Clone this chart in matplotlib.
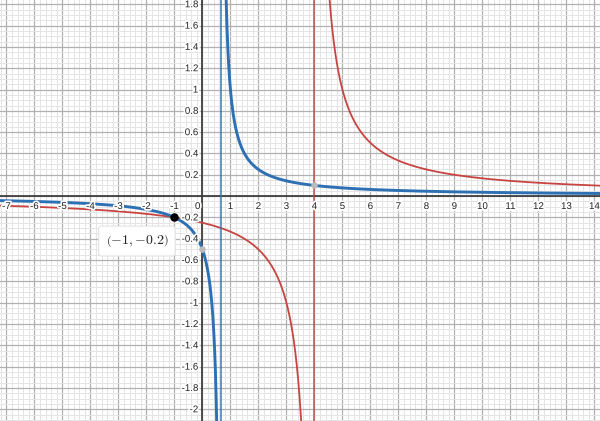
import numpy as np
import matplotlib
matplotlib.use("Agg")
import matplotlib.pyplot as plt
import matplotlib.patheffects as pe

plt.rcParams['mathtext.fontset'] = 'cm'

# Functions y = 1 / (a*x + b)
blue_a, blue_b = 3.0, -2.0   # y = 1/(3x-2)
red_a, red_b = 1.0, -4.0     # y = 1/(x-4)

point_xy = (-1.0, -0.2)
point_label = r"$\left(-1,{-}0.2\right)$"
gray_points_x = [0.0, 4.0]
gray_points_y = [-0.5, 0.1]

x_ticks = list(range(-7, 15))
y_ticks = [-2.0, -1.8, -1.6, -1.4, -1.2, -1.0, -0.8, -0.6, -0.4, -0.2,
           0.2, 0.4, 0.6, 0.8, 1.0, 1.2, 1.4, 1.6, 1.8]

XMIN, XMAX = -7.23, 14.2
YMIN, YMAX = -2.11, 1.84

BLUE = "#2d70b3"
RED = "#c74440"

fig = plt.figure(figsize=(6.0, 4.21), dpi=100)
ax = fig.add_axes([0, 0, 1, 1])
ax.set_xlim(XMIN, XMAX)
ax.set_ylim(YMIN, YMAX)

# grid
ax.set_xticks(np.arange(-7, 15, 1.0))
ax.set_xticks(np.arange(-7.2, 14.21, 0.2), minor=True)
ax.set_yticks(np.arange(-2.0, 1.81, 0.2))
ax.set_yticks(np.arange(-2.1, 1.85, 0.05), minor=True)
ax.grid(which='major', color='#b0b0b0', linewidth=0.9)
ax.grid(which='minor', color='#e4e4e4', linewidth=0.7)
ax.tick_params(which='both', length=0, labelbottom=False, labelleft=False)
for s in ax.spines.values():
    s.set_visible(False)
ax.set_axisbelow(True)

# axes
ax.axhline(0, color='#333333', linewidth=1.2, zorder=2)
ax.axvline(0, color='#333333', linewidth=1.2, zorder=2)

def branch(a, b, side):
    xa = -b / a
    if side < 0:
        xs = np.linspace(XMIN, xa - 1e-4, 4000)
    else:
        xs = np.linspace(xa + 1e-4, XMAX, 4000)
    ys = 1.0 / (a * xs + b)
    ys = np.where((ys > YMAX + 1) | (ys < YMIN - 1), np.nan, ys)
    return xs, ys

for side in (-1, 1):
    xs, ys = branch(red_a, red_b, side)
    ax.plot(xs, ys, color=RED, linewidth=1.3, zorder=3)
ax.axvline(-red_b / red_a, color=RED, linewidth=1.2, alpha=0.85, zorder=3)

for side in (-1, 1):
    xs, ys = branch(blue_a, blue_b, side)
    ax.plot(xs, ys, color=BLUE, linewidth=2.1, zorder=4)
ax.axvline(-blue_b / blue_a, color=BLUE, linewidth=1.2, alpha=0.85, zorder=4)

# tick labels
halo = [pe.withStroke(linewidth=2.5, foreground='white')]
for t in x_ticks:
    if t == 0:
        ax.annotate("0", (0, 0), xytext=(-1.5, -3.5), textcoords='offset points',
                    ha='right', va='top', fontsize=7, family='Liberation Sans',
                    color='#222222', path_effects=halo, zorder=5)
    else:
        ax.annotate(str(t), (t, 0), xytext=(0, -3.5),
                    textcoords='offset points', ha='center', va='top', fontsize=7,
                    family='Liberation Sans', color='#222222', path_effects=halo, zorder=5)
for v in y_ticks:
    lab = ("%g" % v)
    ax.annotate(lab, (0, v), xytext=(-3, 0), textcoords='offset points',
                ha='right', va='center', fontsize=7, family='Liberation Sans',
                color='#222222', path_effects=halo, zorder=5)

# points
ax.scatter(gray_points_x, gray_points_y, s=14, color='#bbbbbb', zorder=6)
ax.scatter([point_xy[0]], [point_xy[1]], s=26, color='black', zorder=7)
ax.annotate(point_label, point_xy, xytext=(-27, -17), textcoords='offset points',
            ha='center', va='center', fontsize=10, color='#222222', zorder=8,
            bbox=dict(boxstyle='round,pad=0.5,rounding_size=0.2', fc='white',
                      ec='#e2e2e2', lw=0.8))

fig.savefig("out.png", dpi=100)
